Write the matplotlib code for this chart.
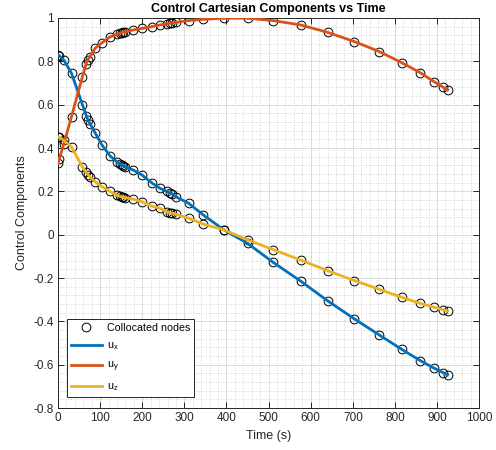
import numpy as np
import matplotlib
matplotlib.use("Agg")
import matplotlib.pyplot as plt
from matplotlib.ticker import MultipleLocator

plt.rcParams['font.family'] = ['Liberation Sans', 'DejaVu Sans']
plt.rcParams['mathtext.fontset'] = 'custom'
plt.rcParams['mathtext.rm'] = 'Liberation Sans'
plt.rcParams['mathtext.it'] = 'Liberation Sans'
plt.rcParams['axes.unicode_minus'] = False

# collocation node times (s) and control components at the nodes
t = [0, 3, 14, 32, 58, 67, 71, 76, 88, 104, 123, 139, 147, 151, 155,
     160, 179, 199, 222, 242, 258, 265, 270, 280, 310, 345, 394, 450,
     511, 576, 640, 704, 763, 816, 860, 893, 915, 925]
ux = [0.830, 0.826, 0.805, 0.745, 0.600, 0.550, 0.530, 0.512, 0.470, 0.415,
      0.365, 0.337, 0.327, 0.322, 0.318, 0.313, 0.298, 0.276, 0.240, 0.214,
      0.200, 0.194, 0.190, 0.175, 0.145, 0.091, 0.022, -0.040, -0.128, -0.214,
      -0.305, -0.389, -0.463, -0.529, -0.581, -0.616, -0.637, -0.647]
uy = [0.330, 0.350, 0.420, 0.545, 0.730, 0.790, 0.808, 0.822, 0.860, 0.885,
      0.912, 0.925, 0.930, 0.933, 0.935, 0.937, 0.945, 0.952, 0.960, 0.968,
      0.973, 0.975, 0.976, 0.980, 0.988, 0.994, 0.999, 0.999, 0.988, 0.968,
      0.934, 0.891, 0.845, 0.794, 0.748, 0.706, 0.680, 0.668]
uz = [0.452, 0.449, 0.435, 0.405, 0.312, 0.288, 0.277, 0.266, 0.245, 0.222,
      0.200, 0.183, 0.178, 0.175, 0.173, 0.171, 0.163, 0.152, 0.132, 0.122,
      0.106, 0.102, 0.099, 0.094, 0.076, 0.049, 0.022, -0.024, -0.069, -0.117,
      -0.166, -0.212, -0.252, -0.289, -0.317, -0.335, -0.347, -0.352]

xticks = [0, 100, 200, 300, 400, 500, 600, 700, 800, 900, 1000]
yticks = [-0.8, -0.6, -0.4, -0.2, 0, 0.2, 0.4, 0.6, 0.8, 1]
ytick_labels = ['-0.8', '-0.6', '-0.4', '-0.2', '0', '0.2', '0.4', '0.6', '0.8', '1']

c_x = '#0072BD'
c_y = '#D95319'
c_z = '#EDB120'
dark = '#262626'

fig = plt.figure(figsize=(4.96, 4.50), dpi=100)
ax = fig.add_axes([0.117, 0.0933, 0.849, 0.8667])

t = np.array(t)
h0, = ax.plot(np.concatenate([t, t, t]), np.concatenate([ux, uy, uz]), 'o',
              mfc='none', mec='k', ms=6.3, mew=0.7, zorder=3)
h1, = ax.plot(t, ux, color=c_x, lw=2, zorder=4)
h2, = ax.plot(t, uy, color=c_y, lw=2, zorder=4)
h3, = ax.plot(t, uz, color=c_z, lw=2, zorder=4)

ax.set_xlim(0, 1000)
ax.set_ylim(-0.8, 1)
ax.set_xticks(xticks)
ax.set_yticks(yticks)
ax.set_yticklabels(ytick_labels)
ax.xaxis.set_minor_locator(MultipleLocator(20))
ax.yaxis.set_minor_locator(MultipleLocator(0.04))

ax.grid(which='major', color='#dcdcdc', lw=0.7, ls='-', zorder=0)
ax.grid(which='minor', color='#c4c4c4', lw=0.6, ls=(0, (1, 2)), zorder=0)
ax.set_axisbelow(True)

ax.tick_params(which='major', direction='in', length=4, width=0.7,
               top=True, right=True, colors=dark, labelsize=8.5, pad=3)
ax.tick_params(which='minor', length=0)
for s in ax.spines.values():
    s.set_color(dark)
    s.set_linewidth(0.7)

ax.set_title('Control Cartesian Components vs Time', fontsize=9,
             fontweight='bold', pad=4)
ax.set_xlabel('Time (s)', fontsize=9, color=dark)
ax.set_ylabel('Control Components', fontsize=9, color=dark)

leg = ax.legend([h0, h1, h2, h3],
                ['Collocated nodes', r'u$_\mathrm{x}$', r'u$_\mathrm{y}$', r'u$_\mathrm{z}$'],
                loc='lower left', bbox_to_anchor=(0.021, 0.028), borderaxespad=0,
                fontsize=7.7, handlelength=2.9, handletextpad=0.5,
                labelspacing=0.7, borderpad=0.35,
                fancybox=False, framealpha=1, edgecolor=dark)
leg.get_frame().set_linewidth(0.7)

fig.savefig('out.png', dpi=100)
